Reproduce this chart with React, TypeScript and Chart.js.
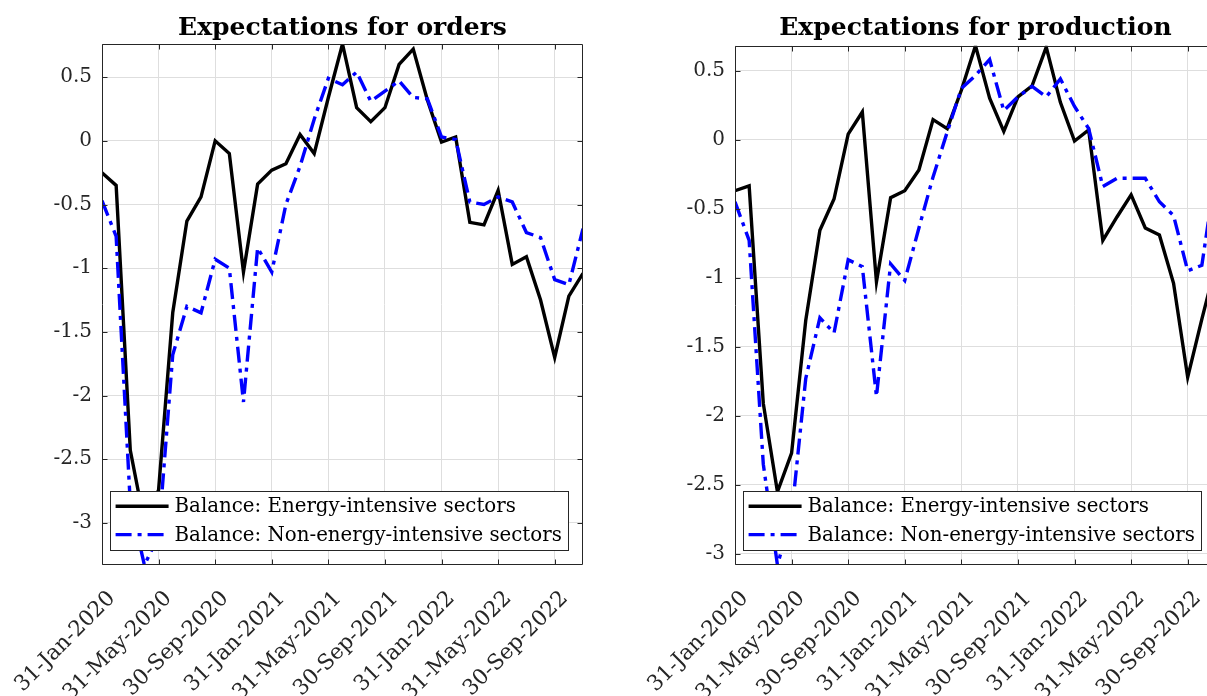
import React, { useEffect, useRef } from 'react';
import { Chart, registerables } from 'chart.js';

Chart.register(...registerables);

// Monthly survey balances, Jan-2020 .. Nov-2022
const months = [
  'Jan-2020', 'Feb-2020', 'Mar-2020', 'Apr-2020', 'May-2020', 'Jun-2020',
  'Jul-2020', 'Aug-2020', 'Sep-2020', 'Oct-2020', 'Nov-2020', 'Dec-2020',
  'Jan-2021', 'Feb-2021', 'Mar-2021', 'Apr-2021', 'May-2021', 'Jun-2021',
  'Jul-2021', 'Aug-2021', 'Sep-2021', 'Oct-2021', 'Nov-2021', 'Dec-2021',
  'Jan-2022', 'Feb-2022', 'Mar-2022', 'Apr-2022', 'May-2022', 'Jun-2022',
  'Jul-2022', 'Aug-2022', 'Sep-2022', 'Oct-2022', 'Nov-2022',
];

const tickMonthIndex = [0, 4, 8, 12, 16, 20, 24, 28, 32];
const tickLabels = [
  '31-Jan-2020', '31-May-2020', '30-Sep-2020', '31-Jan-2021', '31-May-2021',
  '30-Sep-2021', '31-Jan-2022', '31-May-2022', '30-Sep-2022',
];
const yTicks = [-3, -2.5, -2, -1.5, -1, -0.5, 0, 0.5];

const seriesNames = [
  'Balance: Energy-intensive sectors',
  'Balance: Non-energy-intensive sectors',
];

const ordersEnergy = [
  -0.25, -0.35, -2.43, -3.0, -2.74, -1.35, -0.63, -0.44, 0.0, -0.1, -1.03, -0.34,
  -0.23, -0.18, 0.05, -0.1, 0.34, 0.76, 0.26, 0.15, 0.26, 0.6, 0.72, 0.32,
  -0.01, 0.03, -0.64, -0.66, -0.39, -0.97, -0.91, -1.25, -1.7, -1.22, -1.04,
];
const ordersNonEnergy = [
  -0.47, -0.75, -2.85, -3.33, -3.1, -1.68, -1.3, -1.35, -0.93, -1.0, -2.05, -0.84,
  -1.03, -0.5, -0.2, 0.17, 0.49, 0.44, 0.54, 0.31, 0.39, 0.47, 0.34, 0.33,
  0.03, 0.01, -0.48, -0.5, -0.44, -0.48, -0.72, -0.76, -1.09, -1.13, -0.69,
];
const productionEnergy = [
  -0.37, -0.335, -1.91, -2.55, -2.27, -1.31, -0.656, -0.43, 0.04, 0.2, -1.03, -0.42,
  -0.37, -0.22, 0.145, 0.08, 0.357, 0.68, 0.3, 0.06, 0.31, 0.39, 0.67, 0.27,
  -0.01, 0.07, -0.73, -0.56, -0.4, -0.64, -0.69, -1.04, -1.72, -1.3, -0.9,
];
const productionNonEnergy = [
  -0.45, -0.73, -2.35, -3.08, -2.72, -1.73, -1.29, -1.4, -0.87, -0.92, -1.86, -0.9,
  -1.02, -0.64, -0.27, 0.055, 0.37, 0.465, 0.58, 0.21, 0.31, 0.385, 0.31, 0.44,
  0.24, 0.08, -0.34, -0.28, -0.28, -0.28, -0.45, -0.55, -0.95, -0.91, -0.22,
];

const FONT = '"DejaVu Serif", serif';
const AXIS_COLOR = '#262626';
const GRID_COLOR = '#dedede';
const DASH_DOT = [16, 6, 4, 6];
const LINE_WIDTH = 3.4;

// Box around the plot area with inward tick marks on all four sides
const boxPlugin = {
  id: 'axesBox',
  afterDraw(chart: any) {
    const { ctx, chartArea: a, scales } = chart;
    const l = Math.round(a.left) + 0.5;
    const r = Math.round(a.right) - 0.5;
    const t = Math.round(a.top) + 0.5;
    const b = Math.round(a.bottom) - 0.5;
    const len = 5;
    ctx.save();
    ctx.strokeStyle = AXIS_COLOR;
    ctx.lineWidth = 1;
    ctx.setLineDash([]);
    ctx.beginPath();
    ctx.rect(l, t, r - l, b - t);
    scales.x.ticks.forEach((tk: any) => {
      const px = Math.round(scales.x.getPixelForValue(tk.value)) + 0.5;
      ctx.moveTo(px, b);
      ctx.lineTo(px, b - len);
      ctx.moveTo(px, t);
      ctx.lineTo(px, t + len);
    });
    scales.y.ticks.forEach((tk: any) => {
      const py = Math.round(scales.y.getPixelForValue(tk.value)) + 0.5;
      ctx.moveTo(l, py);
      ctx.lineTo(l + len, py);
      ctx.moveTo(r, py);
      ctx.lineTo(r - len, py);
    });
    ctx.stroke();
    ctx.restore();
  },
};

// Legend box in the lower right corner of the plot area
const legendPlugin = {
  id: 'insideLegend',
  afterDatasetsDraw(chart: any) {
    const { ctx, chartArea: a } = chart;
    const items = chart.data.datasets;
    ctx.save();
    ctx.font = `19.8px ${FONT}`;
    const textW = Math.max(...items.map((d: any) => ctx.measureText(d.label).width));
    const padL = 5.5;
    const sample = 53;
    const gap = 6;
    const padR = 6.5;
    const h = 59;
    const w = padL + sample + gap + textW + padR;
    const right = a.right - 14.7;
    const bottom = a.bottom - 15;
    const left = right - w;
    const top = bottom - h;
    ctx.fillStyle = '#ffffff';
    ctx.fillRect(left, top, w, h);
    ctx.strokeStyle = AXIS_COLOR;
    ctx.lineWidth = 1;
    ctx.strokeRect(Math.round(left) + 0.5, Math.round(top) + 0.5, Math.round(w), Math.round(h));
    items.forEach((d: any, i: number) => {
      const cy = top + 15.3 + i * 28.3;
      ctx.beginPath();
      ctx.setLineDash(d.borderDash || []);
      ctx.strokeStyle = d.borderColor;
      ctx.lineWidth = d.borderWidth;
      ctx.moveTo(left + padL, cy);
      ctx.lineTo(left + padL + sample, cy);
      ctx.stroke();
      ctx.setLineDash([]);
      ctx.fillStyle = '#000000';
      ctx.textAlign = 'left';
      ctx.textBaseline = 'middle';
      ctx.fillText(d.label, left + padL + sample + gap, cy + 1);
    });
    ctx.restore();
  },
};

type PanelProps = {
  title: string;
  energy: number[];
  nonEnergy: number[];
  yMin: number;
  yMax: number;
  left: number;
  titleBottom: number;
};

function Panel({ title, energy, nonEnergy, yMin, yMax, left, titleBottom }: PanelProps) {
  const ref = useRef<HTMLCanvasElement>(null);

  useEffect(() => {
    const tickFont = { family: FONT, size: 20 };
    const dateFont = { family: FONT, size: 21.5 };
    const chart = new Chart(ref.current as HTMLCanvasElement, {
      type: 'line',
      data: {
        datasets: [
          {
            label: seriesNames[0],
            data: energy.map((v, i) => ({ x: i, y: v })),
            borderColor: '#000000',
            borderWidth: LINE_WIDTH,
            pointRadius: 0,
            fill: false,
            order: 1,
          },
          {
            label: seriesNames[1],
            data: nonEnergy.map((v, i) => ({ x: i, y: v })),
            borderColor: '#0000ff',
            borderWidth: LINE_WIDTH,
            borderDash: DASH_DOT,
            pointRadius: 0,
            fill: false,
            order: 0,
          },
        ],
      },
      options: {
        animation: false,
        responsive: false,
        devicePixelRatio: 1,
        layout: { padding: { left: 0, right: 57, top: 0, bottom: 0 } },
        plugins: {
          legend: { display: false },
          tooltip: { enabled: false },
          title: {
            display: true,
            text: title,
            fullSize: false,
            color: '#000000',
            font: { family: FONT, size: 25, weight: 'bold' },
            padding: { top: 13, bottom: titleBottom },
          },
        },
        scales: {
          x: {
            type: 'linear',
            min: 0,
            max: months.length - 1,
            afterBuildTicks: (s: any) => {
              s.ticks = tickMonthIndex.map((v) => ({ value: v }));
            },
            afterFit: (s: any) => {
              s.height = 131;
              s.paddingLeft = 0;
              s.paddingRight = 0;
            },
            grid: { color: GRID_COLOR, drawTicks: false },
            border: { display: false },
            ticks: {
              font: dateFont,
              color: AXIS_COLOR,
              padding: 21,
              labelOffset: 10,
              minRotation: 45,
              maxRotation: 45,
              autoSkip: false,
              callback: (_v: any, i: number) => tickLabels[i],
            },
          },
          y: {
            min: yMin,
            max: yMax,
            afterBuildTicks: (s: any) => {
              s.ticks = yTicks.map((v) => ({ value: v }));
            },
            afterFit: (s: any) => {
              s.width = 102;
              s.paddingTop = 0;
              s.paddingBottom = 0;
            },
            grid: { color: GRID_COLOR, drawTicks: false },
            border: { display: false },
            ticks: {
              font: tickFont,
              color: AXIS_COLOR,
              padding: 10,
              callback: (v: any) => String(v),
            },
          },
        },
      } as any,
      plugins: [legendPlugin, boxPlugin],
    });
    return () => chart.destroy();
  }, [title, energy, nonEnergy, yMin, yMax, titleBottom]);

  return (
    <canvas
      ref={ref}
      width={640}
      height={696}
      style={{ position: 'absolute', left, top: 0, width: 640, height: 696 }}
    />
  );
}

export default function App() {
  return (
    <div
      style={{
        position: 'fixed',
        left: 0,
        top: 0,
        width: 1207,
        height: 696,
        overflow: 'hidden',
        background: '#ffffff',
      }}
    >
      <Panel
        title="Expectations for orders"
        energy={ordersEnergy}
        nonEnergy={ordersNonEnergy}
        yMin={-3.33}
        yMax={0.76}
        left={0}
        titleBottom={1}
      />
      <Panel
        title="Expectations for production"
        energy={productionEnergy}
        nonEnergy={productionNonEnergy}
        yMin={-3.08}
        yMax={0.68}
        left={633}
        titleBottom={2.7}
      />
    </div>
  );
}
